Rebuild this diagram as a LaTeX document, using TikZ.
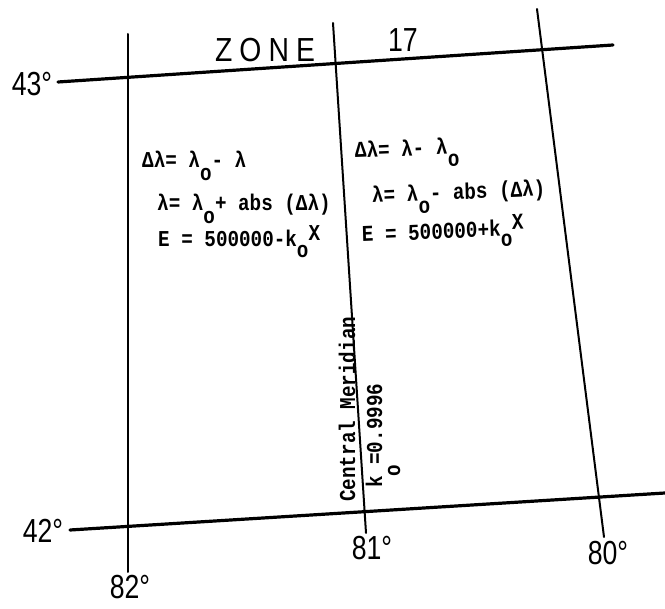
\documentclass[tikz,border=0pt]{standalone}
\usepackage{fontspec}
\usepackage{tikz}
\usetikzlibrary{positioning}
\newfontfamily\typewriter{Liberation Mono}
\newfontfamily\lettering{Liberation Sans}
\newfontfamily\zonelettering[LetterSpace=25]{Liberation Sans}
\newcommand{\dnsub}[2][0.55em]{\raisebox{-#1}{#2}}
\newcommand{\upsup}[1]{\raisebox{0.3em}{#1}}

\begin{document}
\begin{tikzpicture}[x=0.75pt, y=-0.75pt,
  parallel/.style={line width=2.4pt, line cap=round},
  meridian/.style={line width=1.5pt, line cap=round},
  deglabel/.style={font=\lettering\fontsize{25}{29}\selectfont, xscale=0.8, inner sep=0pt},
  formula/.style={font=\typewriter\bfseries\fontsize{17}{20}\selectfont, xscale=0.85, inner sep=0pt, anchor=base west}
]
\useasboundingbox (0,0) rectangle (665,609);
% grid corners
\coordinate (N1) at (58,82);
\coordinate (N2) at (613,45);
\coordinate (S1) at (70,530);
\coordinate (S2) at (665,493);
\coordinate (M82top) at (128,34);
\coordinate (M82bot) at (128,572);
\coordinate (M81top) at (333,23);
\coordinate (M81bot) at (366,533);
\coordinate (M80top) at (537,9);
\coordinate (M80bot) at (604,537);
\draw[parallel] (N1) -- (N2);
\draw[parallel] (S1) -- (S2);
\draw[meridian] (M82top) -- (M82bot);
\draw[meridian] (M81top) -- (M81bot);
\draw[meridian] (M80top) -- (M80bot);
% degree labels
\node[deglabel] (lat43) at (32,84)  {43°};
\node[deglabel] (lat42) at (43,531) {42°};
\node[deglabel] (lon82) at (130,587) {82°};
\node[deglabel] (lon81) at (372,548) {81°};
\node[deglabel] (lon80) at (608,553) {80°};
\node[font=\zonelettering\fontsize{25}{29}\selectfont, xscale=0.85, inner sep=0pt] (zone) at (265,50) {ZONE};
\node[deglabel] (zonenum) at (403,40) {17};
% west of central meridian
\node[formula] (dlw) at (142,168) {Δλ= λ\dnsub{o}- λ};
\node[formula] (lamw) at (157,211) {λ= λ\dnsub{o}+ abs (Δλ)};
\node[formula] (eastw) at (158,247) {E = 500000-k\dnsub[0.45em]{o}\upsup{X}};
% east of central meridian
\node[formula, rotate=2] (dle) at (355,158) {Δλ= λ- λ\dnsub{o}};
\node[formula, rotate=2] (lame) at (372,203) {λ= λ\dnsub{o}- abs (Δλ)};
\node[formula, rotate=2] (easte) at (362,242) {E = 500000+k\dnsub[0.45em]{o}\upsup{X}};
% along the central meridian
\node[formula, xscale=1/0.85, yscale=0.85, rotate=90] (cmlabel) at (355,502) {Central Meridian};
\node[formula, xscale=1/0.85, yscale=0.85, rotate=90] (kzero) at (382,488) {k\dnsub[0.8em]{o}=0.9996};
\end{tikzpicture}
\end{document}
